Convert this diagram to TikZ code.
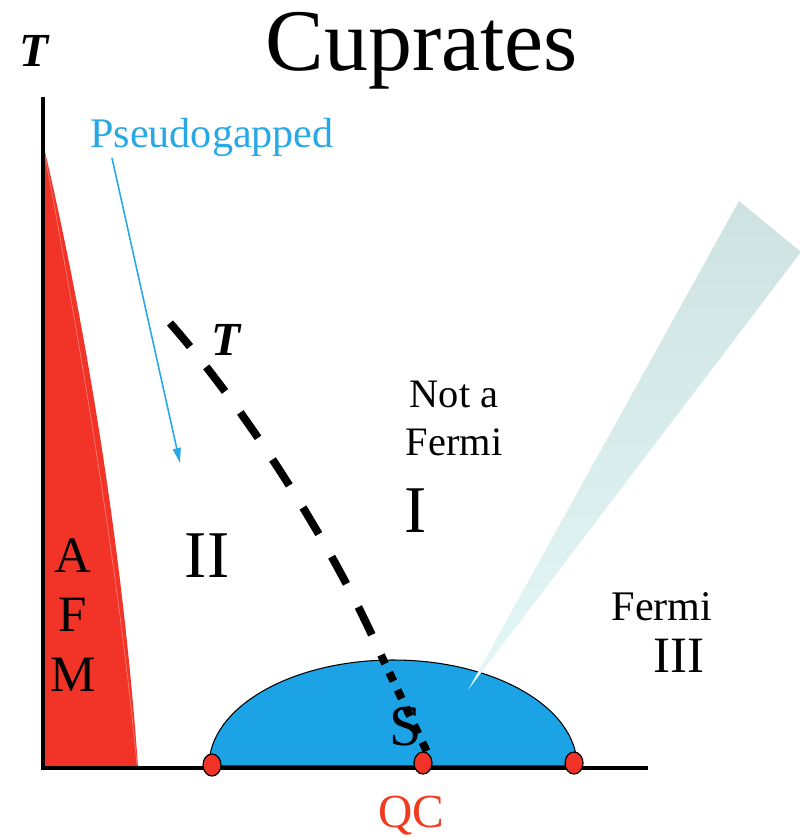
\documentclass[tikz,border=0pt]{standalone}
\usepackage{fontspec}
\setmainfont{Liberation Serif}
\usepackage{xcolor}
\usetikzlibrary{arrows.meta, shapes.geometric}

\definecolor{afmred}{RGB}{242,52,40}
\definecolor{domeblue}{RGB}{27,163,230}
\definecolor{pgblue}{RGB}{41,168,230}
\definecolor{qcred}{RGB}{242,58,30}
\definecolor{conetop}{RGB}{206,226,226}
\definecolor{conebot}{RGB}{228,247,247}

\begin{document}
\begin{tikzpicture}[
    x=0.02cm, y=-0.02cm,
    lbl/.style={inner sep=0pt, anchor=base},
    fase/.style={lbl, font=\fontsize{24}{27}\selectfont},
    angka/.style={lbl, font=\fontsize{38}{40}\selectfont},
    suhu/.style={lbl, font=\fontsize{27}{30}\bfseries\itshape\selectfont},
    titik/.style={ellipse, draw=black, fill=afmred, line width=0.7pt,
                  minimum width=0.36cm, minimum height=0.44cm, inner sep=0pt}
  ]
    \useasboundingbox (0,0) rectangle (801,839);
    % AFM wedge
    \fill[afmred] (43,143) .. controls (90,343) and (124,567) .. (138,767)
      -- (43,767) -- cycle;
    \draw[white, opacity=0.35, line width=0.4pt]
      (44,150) .. controls (80,343) and (118,567) .. (137,765);
    % axes
    \draw[line width=2.4pt] (43,97) -- (43,768) -- (648,768);
    % superconducting dome
    \filldraw[fill=domeblue, draw=black, line width=0.6pt]
      (209,766) arc[start angle=180, end angle=360, x radius=184, y radius=106]
      -- cycle;
    \draw[line width=2.4pt] (209,768) -- (577,768);
    % light cone
    \shade[top color=conetop, bottom color=conebot]
      (468,690) -- (739,201) -- (801,252) -- cycle;
    % T* crossover
    \draw[line width=4.5pt, dash pattern=on 17.6pt off 14.8pt]
      (170,323) .. controls (249,413) and (334,548) .. (381,655);
    \draw[line width=4.5pt, dash pattern=on 5.5pt off 5.5pt]
      (381,655) -- (427,752);
    % quantum critical points
    \node[titik] (qc1) at (212,765) {};
    \node[titik] (qc2) at (423,763) {};
    \node[titik] (qc3) at (574,763) {};
    % labels
    \node[lbl, font=\fontsize{50}{60}\selectfont] (judul) at (422,70) {Cuprates};
    \node[suhu] (tsumbu) at (34,66) {T};
    \node[suhu] (tgaris) at (226,355) {T};
    \node[lbl, pgblue, font=\fontsize{24}{27}\selectfont] (pg) at (212,147)
      {Pseudogapped};
    \coordinate (pgekor) at (112,158);
    \coordinate (pgujung) at (180,463);
    \draw[pgblue, line width=0.9pt, -{Triangle[length=8.5pt, width=4.5pt]}]
      (pgekor) -- (pgujung);
    \node[inner sep=0pt, align=center, font=\fontsize{23}{27.3}\selectfont]
      (nonfermi) at (454,418) {Not a\\Fermi};
    \node[angka] (satu) at (416,532) {I};
    \node[angka] (dua) at (207,577) {II};
    \node[fase] (fermi) at (662,620) {Fermi};
    \node[lbl, font=\fontsize{29}{32}\selectfont] (tiga) at (679,672) {III};
    \node[inner sep=0pt, align=center, font=\fontsize{29}{34}\selectfont]
      (afm) at (73,615) {A\\F\\M};
    \node[lbl, font=\fontsize{33}{36}\selectfont] (sc) at (406,745) {S};
    \node[lbl, qcred, font=\fontsize{27}{30}\selectfont] (qc) at (411,827) {QC};
  \end{tikzpicture}
\end{document}
